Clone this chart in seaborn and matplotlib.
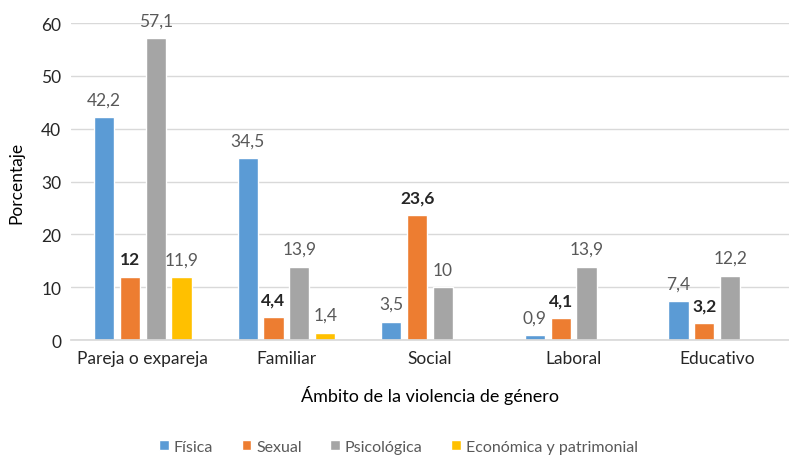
import numpy as np
import pandas as pd
import matplotlib
matplotlib.use("Agg")
import matplotlib.pyplot as plt
import seaborn as sns

categories = ["Pareja o expareja", "Familiar", "Social", "Laboral", "Educativo"]
series = ["Física", "Sexual", "Psicológica", "Económica y patrimonial"]
fisica = [42.2, 34.5, 3.5, 0.9, 7.4]
sexual = [12, 4.4, 23.6, 4.1, 3.2]
psicologica = [57.1, 13.9, 10, 13.9, 12.2]
economica = [11.9, 1.4, np.nan, np.nan, np.nan]
colors = ["#5B9BD5", "#ED7D31", "#A5A5A5", "#FFC000"]

rows = []
for s, vals in zip(series, [fisica, sexual, psicologica, economica]):
    for c, v in zip(categories, vals):
        rows.append({"Ámbito": c, "Tipo": s, "Porcentaje": v})
df = pd.DataFrame(rows)

sns.set_theme(style="white")
plt.rcParams["font.family"] = ["Lato", "DejaVu Sans"]

fig = plt.figure(figsize=(7.89, 4.56), dpi=100)
ax = fig.add_axes([0.09, 0.252, 0.91, 0.695])
sns.barplot(data=df, x="Ámbito", y="Porcentaje", hue="Tipo", order=categories,
            hue_order=series, palette=colors, width=0.72, gap=0.22,
            saturation=1, ax=ax, legend=True, errorbar=None)

def fmt(v):
    s = f"{v:.1f}".replace(".", ",")
    if s.endswith(",0"):
        s = s[:-2]
    return s

for i, cont in enumerate(ax.containers):
    labs = ["" if np.isnan(v) else fmt(v) for v in cont.datavalues]
    if i == 1:
        ax.bar_label(cont, labels=labs, padding=7, fontsize=12.5, color="#262626", fontweight="bold")
    else:
        ax.bar_label(cont, labels=labs, padding=7, fontsize=12.5, color="#595959")

ax.set_ylim(0, 60)
ax.set_yticks(range(0, 61, 10))
ax.set_xlim(-0.5, 4.5)
ax.yaxis.grid(True, color="#D9D9D9", linewidth=1)
ax.set_axisbelow(True)
for sp in ["top", "right", "left"]:
    ax.spines[sp].set_visible(False)
ax.spines["bottom"].set_color("#D9D9D9")
ax.tick_params(axis="both", length=0, labelsize=12.5, labelcolor="#262626", pad=7)
ax.set_ylabel("Porcentaje", fontsize=12.5, color="#000000", labelpad=12)
ax.set_xlabel("Ámbito de la violencia de género", fontsize=13, color="#000000", labelpad=14)

leg = ax.legend(loc="center", ncol=4, frameon=False, fontsize=11.5, handlelength=0.6,
                handleheight=0.6, handletextpad=0.3, columnspacing=1.8)
for t in leg.get_texts():
    t.set_color("#595959")
leg.set_bbox_to_anchor((0.505, 0.018), transform=fig.transFigure)

fig.savefig("out.png", dpi=100)
